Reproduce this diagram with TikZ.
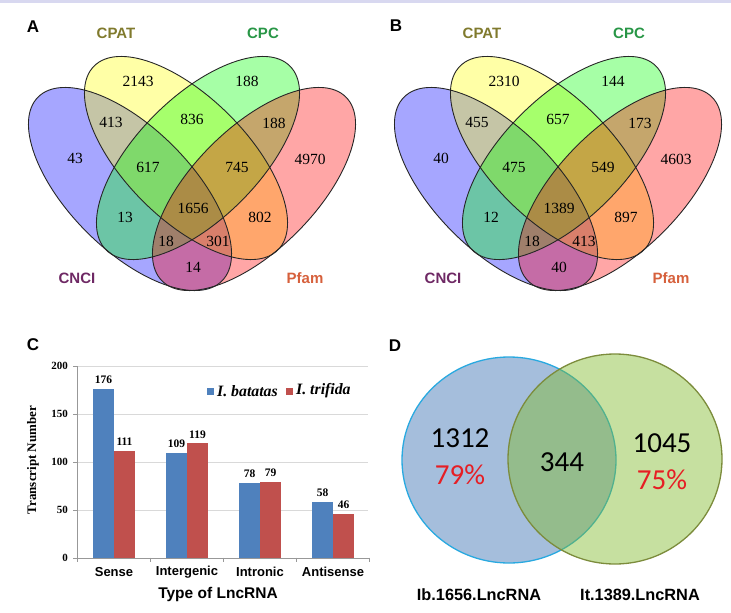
\documentclass[tikz,border=0pt]{standalone}
\usepackage{fontspec}
\setmainfont{Liberation Serif}
\setsansfont{Liberation Sans}
\newfontfamily\carlito{Carlito}
\usetikzlibrary{calc}

\definecolor{vblue}{RGB}{0,0,255}
\definecolor{vyellow}{RGB}{255,255,0}
\definecolor{vgreen}{RGB}{0,255,0}
\definecolor{vred}{RGB}{255,0,0}
\definecolor{cpatcol}{RGB}{128,122,45}
\definecolor{cpccol}{RGB}{40,150,70}
\definecolor{cncicol}{RGB}{110,40,100}
\definecolor{pfamcol}{RGB}{214,96,60}
\definecolor{barblue}{RGB}{79,129,189}
\definecolor{barred}{RGB}{192,80,77}
\definecolor{gridgray}{RGB}{217,217,217}
\definecolor{ibfill}{RGB}{165,190,220}
\definecolor{ibline}{RGB}{41,169,224}
\definecolor{itfill}{RGB}{129,187,44}
\definecolor{itline}{RGB}{124,140,60}
\definecolor{pctred}{RGB}{230,30,36}
\definecolor{topband}{RGB}{216,216,240}

% four-set Venn: x shift, name prefix, x/y/count list
\newcommand{\vennfour}[3]{%
  \begin{scope}[xshift=#1]
    % Ellipses
    \foreach \cx/\cy/\ang/\col in {130/189/-45/vblue, 186/158/-45/vyellow, 198/158/45/vgreen, 254/189/45/vred}
      \fill[\col, fill opacity=0.35, rotate around={\ang:(\cx,\cy)}] (\cx,\cy) ellipse [x radius=130, y radius=61];
    \foreach \cx/\cy/\ang in {130/189/-45, 186/158/-45, 198/158/45, 254/189/45}
      \draw[vline, rotate around={\ang:(\cx,\cy)}] (\cx,\cy) ellipse [x radius=130, y radius=61];
    % Set names
    \node[setlab, text=cpatcol] (#2cpat) at (116,33) {CPAT};
    \node[setlab, text=cpccol] (#2cpc) at (263,33) {CPC};
    \node[setlab, text=cncicol] (#2cnci) at (77,278) {CNCI};
    \node[setlab, text=pfamcol] (#2pfam) at (305,278) {Pfam};
    % Counts
    \foreach \x/\y/\t [count=\k] in {#3}
      \node[num] (#2n\k) at (\x,\y) {\t};
  \end{scope}}

\begin{document}
\begin{tikzpicture}[x=1pt, y=-1pt,
    vline/.style={draw=black!85, line width=0.9pt},
    num/.style={font=\fontsize{15.5}{18}\selectfont, inner sep=0pt},
    setlab/.style={font=\sffamily\bfseries\fontsize{15}{18}\selectfont, inner sep=0pt},
    panel/.style={font=\sffamily\bfseries\fontsize{17}{20}\selectfont, inner sep=0pt},
    val/.style={font=\bfseries\fontsize{11.5}{13}\selectfont, inner sep=0pt},
    tick/.style={font=\bfseries\fontsize{11}{13}\selectfont, inner sep=0pt, anchor=east},
    cat/.style={font=\sffamily\bfseries\fontsize{13}{15}\selectfont, inner sep=0pt},
    big/.style={font=\carlito\fontsize{29}{32}\selectfont, inner sep=0pt},
    dlab/.style={font=\sffamily\bfseries\fontsize{16.3}{19}\selectfont, inner sep=0pt}]

    \useasboundingbox (0,0) rectangle (731,613);
    \fill[topband] (0,0) rectangle (731,2.5);

    % Panels A and B
    \node[panel] (pa) at (33,27) {A};
    \node[panel] (pb) at (396,26) {B};
    \vennfour{0}{a}{138/81/2143, 247/81/188, 111/122/413, 192/119/836, 274/123/188,
      75/158/43, 148/167/617, 237/167/745, 310/159/4970, 193/208/1656,
      125/217/13, 260/217/802, 166/241/18, 218/241/301, 193/267/14}
    \vennfour{366}{b}{138/81/2310, 247/81/144, 111/122/455, 192/119/657, 274/123/173,
      75/158/40, 148/167/475, 237/167/549, 310/159/4603, 193/208/1389,
      125/217/12, 260/217/897, 166/241/18, 218/241/413, 193/267/40}

    % Panel C
    \node[panel] (pc) at (33,345) {C};
    \foreach \v in {50,100,150,200}
      \draw[gridgray] (77,{557.7-0.96*\v}) -- (368,{557.7-0.96*\v});
    \foreach \v in {0,50,...,200} {
      \draw[gridgray!70!black] (73,{557.7-0.96*\v}) -- (77,{557.7-0.96*\v});
      \node[tick] (yt\v) at (68,{557.7-0.96*\v}) {\v};
    }
    \draw[gridgray!70!black] (77,557.7) -- (77,365.7);
    \draw[gridgray!70!black] (77,557.7) -- (369,557.7);
    \foreach \i in {0,...,4}
      \draw[gridgray!70!black] ({77+73*\i},557.7) -- ({77+73*\i},562);
    \foreach \i/\b/\r/\name in {0/176/111/Sense, 1/109/119/Intergenic, 2/78/79/Intronic, 3/58/46/Antisense} {
      \fill[barblue] ({93+73*\i},557.7) rectangle ({114+73*\i},{557.7-0.96*\b});
      \fill[barred] ({114+73*\i},557.7) rectangle ({135+73*\i},{557.7-0.96*\r});
      \node[val] (vb\i) at ({103.5+73*\i},{557.7-0.96*\b-9}) {\b};
      \node[val] (vr\i) at ({124.5+73*\i},{557.7-0.96*\r-9}) {\r};
      \node[cat] (cat\i) at ({114+73*\i},572) {\name};
    }
    \node[font=\bfseries\fontsize{13}{15}\selectfont, rotate=90] (ytitle) at (33,460) {Transcript Number};
    \node[font=\sffamily\bfseries\fontsize{15.5}{18}\selectfont] (xtitle) at (218,594) {Type of LncRNA};
    % Legend
    \fill[barblue] (206.5,387.5) rectangle (213.5,394.5);
    \node[anchor=west, inner sep=0pt, font=\bfseries\itshape\fontsize{15.8}{18}\selectfont] (lgb) at (217,391) {I. batatas};
    \fill[barred] (285.5,387.5) rectangle (292.5,394.5);
    \node[anchor=west, inner sep=0pt, font=\bfseries\itshape\fontsize{15.8}{18}\selectfont] (lgr) at (296,391) {I. trifida};

    % Panel D
    \node[panel] (pd) at (395,346) {D};
    \fill[ibfill] (509,460) ellipse [x radius=107, y radius=103];
    \draw[ibline, line width=1.3pt] (509,460) ellipse [x radius=107, y radius=103];
    \fill[itfill, fill opacity=0.45] (615,459) ellipse [x radius=107, y radius=105];
    \draw[itline, line width=1.3pt] (615,459) ellipse [x radius=107, y radius=105];
    \node[big] (ib) at (460,438) {1312};
    \node[big, text=pctred] (ibp) at (460,475) {79\%};
    \node[big] (both) at (562,462) {344};
    \node[big] (it) at (662,443) {1045};
    \node[big, text=pctred] (itp) at (662,480) {75\%};
    \node[dlab] (ibname) at (479,595) {Ib.1656.LncRNA};
    \node[dlab] (itname) at (640,595) {It.1389.LncRNA};
\end{tikzpicture}
\end{document}
